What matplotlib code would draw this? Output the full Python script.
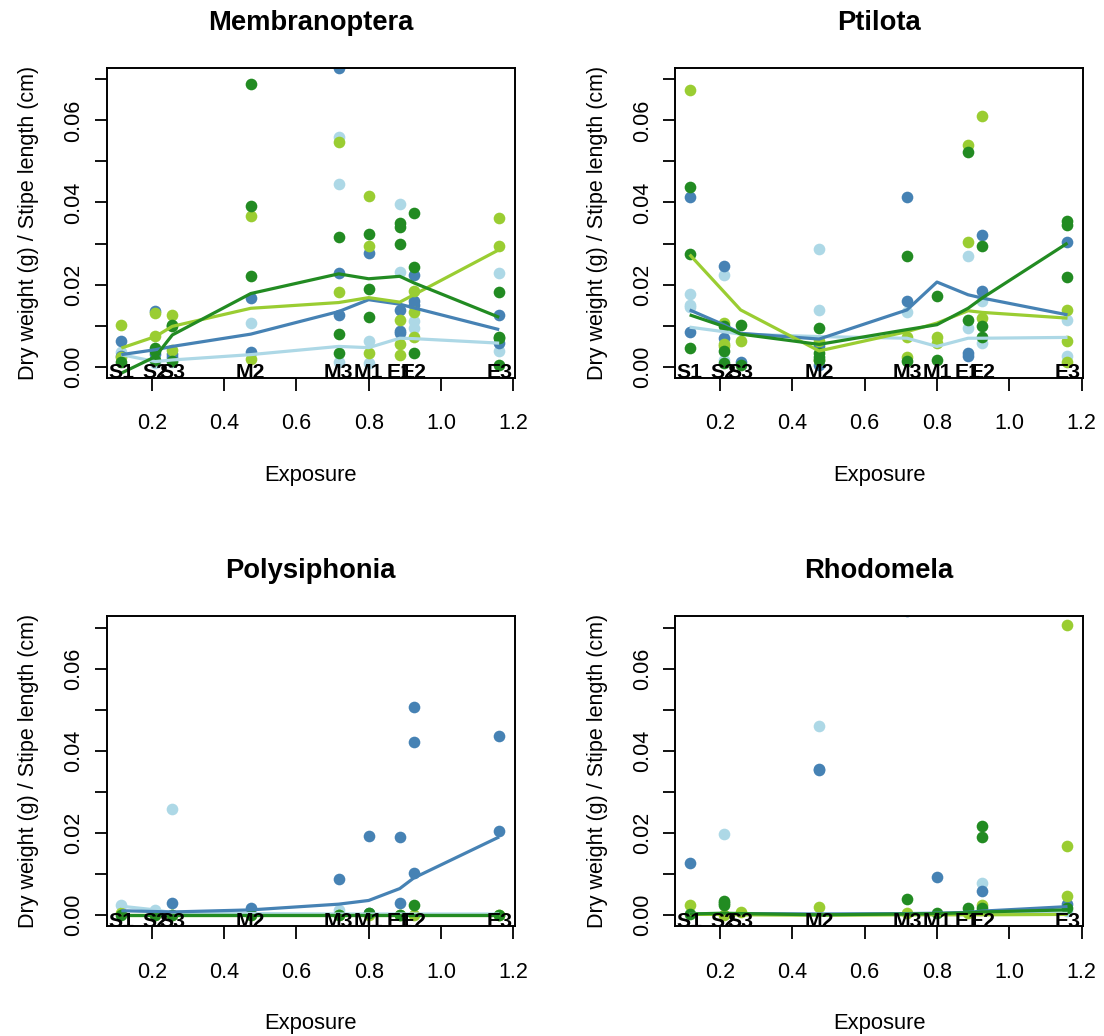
import numpy as np
import matplotlib
matplotlib.use("Agg")
import matplotlib.pyplot as plt

plt.rcParams["font.family"] = ["Liberation Sans", "DejaVu Sans"]

# Sampling sites and their exposure index
SITES = ["S1", "S2", "S3", "M2", "M3", "M1", "E1", "E2", "E3"]
EXPOSURE = [0.116, 0.210, 0.257, 0.474, 0.717, 0.800, 0.886, 0.925, 1.161]
GROUP_COLOURS = ["lightblue", "steelblue", "yellowgreen", "forestgreen"]

# ---- Membranoptera: replicate values per site, one list per group ----
memb_lightblue = [[0.0035], [0.0008], [0.0010], [0.0106], [0.0559, 0.0446, 0.0012],
                  [0.0063, 0.0008], [0.0396, 0.0230], [0.0112, 0.0094], [0.0228, 0.0037]]
memb_steelblue = [[0.0063, 0.0025], [0.0136, 0.0030], [0.0024, 0.0030], [0.0168, 0.0035],
                  [0.0729, 0.0228, 0.0126], [0.0277], [0.0138, 0.0087, 0.0081],
                  [0.0224, 0.0159, 0.0150], [0.0126, 0.0057]]
memb_yellowgreen = [[0.0102, 0.0024], [0.0130, 0.0075], [0.0126, 0.0041], [0.0366, 0.0018],
                    [0.0548, 0.0182], [0.0417, 0.0295, 0.0033], [0.0114, 0.0055, 0.0029],
                    [0.0185, 0.0134, 0.0071], [0.0362, 0.0295]]
memb_forestgreen = [[0.0012], [0.0046, 0.0037, 0.0017], [0.0102, 0.0098, 0.0014],
                    [0.0688, 0.0391, 0.0220], [0.0315, 0.0079, 0.0033], [0.0324, 0.0188, 0.0121],
                    [0.0350, 0.0340, 0.0299], [0.0374, 0.0242, 0.0033], [0.0182, 0.0073, 0.0070, 0.0004]]
memb_fit_lightblue = [0.0029, 0.0012, 0.0016, 0.0029, 0.0049, 0.0046, 0.0069, 0.0068, 0.0057]
memb_fit_steelblue = [0.0029, 0.0041, 0.0049, 0.0079, 0.0134, 0.0163, 0.0152, 0.0143, 0.0090]
memb_fit_yellowgreen = [0.0045, 0.0073, 0.0098, 0.0142, 0.0156, 0.0168, 0.0157, 0.0175, 0.0285]
memb_fit_forestgreen = [-0.0016, 0.0024, 0.0077, 0.0178, 0.0226, 0.0214, 0.0220, 0.0204, 0.0120]

# ---- Ptilota ----
ptil_lightblue = [[0.0178, 0.0151, 0.0145], [0.0224, 0.0016], [], [0.0286, 0.0138], [0.0134],
                  [], [0.0269, 0.0095], [0.0159, 0.0057], [0.0114, 0.0026]]
ptil_steelblue = [[0.0413, 0.0083], [0.0244, 0.0069], [0.0010], [0.0049, 0.0004], [0.0413, 0.0160],
                  [], [0.0034, 0.0025], [0.0321, 0.0183], [0.0303]]
ptil_yellowgreen = [[0.0674], [0.0106, 0.0055, 0.0050], [0.0063], [0.0063, 0.0016], [0.0071, 0.0022],
                    [0.0073, 0.0057], [0.0541, 0.0303], [0.0612, 0.0118], [0.0138, 0.0063, 0.0012]]
ptil_forestgreen = [[0.0438, 0.0274, 0.0046], [0.0099, 0.0038, 0.0009], [0.0102, 0.0004],
                    [0.0094, 0.0033, 0.0024, 0.0016], [0.0269, 0.0014], [0.0171, 0.0016],
                    [0.0523, 0.0113], [0.0295, 0.0100, 0.0071], [0.0354, 0.0346, 0.0218]]
ptil_fit_lightblue = [0.0096, 0.0085, 0.0079, 0.0073, 0.0069, 0.0049, 0.0069, 0.0069, 0.0071]
ptil_fit_steelblue = [0.0138, 0.0102, 0.0081, 0.0067, 0.0138, 0.0206, 0.0175, 0.0167, 0.0126]
ptil_fit_yellowgreen = [0.0273, 0.0183, 0.0138, 0.0038, 0.0085, 0.0106, 0.0136, 0.0132, 0.0118]
ptil_fit_forestgreen = [0.0126, 0.0098, 0.0079, 0.0054, 0.0090, 0.0102, 0.0142, 0.0167, 0.0301]

# ---- Polysiphonia ----
poly_lightblue = [[0.0024], [0.0012], [0.0257], [], [0.0012], [], [], [], []]
poly_steelblue = [[], [], [0.0028], [0.0016], [0.0088], [0.0193, 0.0004], [0.0189, 0.0028],
                  [0.0507, 0.0422, 0.0102], [0.0435, 0.0204]]
poly_yellowgreen = [[0.0004], [0.0], [0.0], [0.0], [0.0], [0.0], [0.0], [0.0], [0.0]]
poly_forestgreen = [[0.0], [0.0], [0.0], [0.0], [0.0], [0.0004], [0.0], [0.0023], [0.0]]
poly_fit_lightblue = [0.0021, 0.0012, 0.0005, 0.0003, 0.0002, 0.0002, 0.0002, 0.0002, 0.0002]
poly_fit_steelblue = [0.0010, 0.0008, 0.0007, 0.0012, 0.0026, 0.0035, 0.0064, 0.0090, 0.0190]
poly_fit_yellowgreen = [0.0, 0.0, 0.0, 0.0, 0.0, 0.0, 0.0, 0.0, 0.0]
poly_fit_forestgreen = [0.0, 0.0, 0.0, 0.0, 0.0, 0.0, 0.0, 0.0, 0.0]

# ---- Rhodomela ----
rhod_lightblue = [[], [0.0198], [], [0.0460], [], [], [], [0.0077], [0.0010]]
rhod_steelblue = [[0.0126], [], [], [0.0355, 0.0353], [0.0742], [0.0092], [], [0.0059], [0.0026]]
rhod_yellowgreen = [[0.0024], [0.0], [0.0006], [0.0018], [0.0005], [], [0.0005], [0.0024],
                    [0.0706, 0.0169, 0.0046]]
rhod_forestgreen = [[0.0002], [0.0034, 0.0029, 0.0023], [], [], [0.0038], [0.0005], [0.0016],
                    [0.0216, 0.0189, 0.0016], [0.0017]]
rhod_fit_lightblue = [0.0001, 0.0001, 0.0001, 0.0001, 0.0001, 0.0001, 0.0002, 0.0003, 0.0004]
rhod_fit_steelblue = [0.0002, 0.0003, 0.0003, 0.0002, 0.0003, 0.0004, 0.0006, 0.0009, 0.0020]
rhod_fit_yellowgreen = [0.0001, 0.0001, 0.0, -0.0001, 0.0, 0.0, 0.0, 0.0, 0.0001]
rhod_fit_forestgreen = [0.0002, 0.0004, 0.0003, 0.0, 0.0002, 0.0003, 0.0005, 0.0007, 0.0012]

PANELS = [
    ("Membranoptera",
     [memb_lightblue, memb_steelblue, memb_yellowgreen, memb_forestgreen],
     [memb_fit_lightblue, memb_fit_steelblue, memb_fit_yellowgreen, memb_fit_forestgreen]),
    ("Ptilota",
     [ptil_lightblue, ptil_steelblue, ptil_yellowgreen, ptil_forestgreen],
     [ptil_fit_lightblue, ptil_fit_steelblue, ptil_fit_yellowgreen, ptil_fit_forestgreen]),
    ("Polysiphonia",
     [poly_lightblue, poly_steelblue, poly_yellowgreen, poly_forestgreen],
     [poly_fit_lightblue, poly_fit_steelblue, poly_fit_yellowgreen, poly_fit_forestgreen]),
    ("Rhodomela",
     [rhod_lightblue, rhod_steelblue, rhod_yellowgreen, rhod_forestgreen],
     [rhod_fit_lightblue, rhod_fit_steelblue, rhod_fit_yellowgreen, rhod_fit_forestgreen]),
]

X_TICKS = [0.2, 0.4, 0.6, 0.8, 1.0, 1.2]
X_TICK_LABELS = ["0.2", "0.4", "0.6", "0.8", "1.0", "1.2"]
Y_TICKS = [0.00, 0.01, 0.02, 0.03, 0.04, 0.05, 0.06, 0.07]
Y_TICK_LABELS = ["0.00", "", "0.02", "", "0.04", "", "0.06", ""]

W, H = 1104, 1036
fig = plt.figure(figsize=(W / 100, H / 100), dpi=100)

# plot regions in pixels: left, top, right, bottom
boxes = [(106.7, 68, 515, 378), (675, 68, 1083.3, 378),
         (106.7, 616.3, 515, 926.3), (675, 616.3, 1083.3, 926.3)]

PX = 72 / 100  # points per pixel

for (l, t, r, b), (name, groups, fits) in zip(boxes, PANELS):
    ax = fig.add_axes([l / W, 1 - b / H, (r - l) / W, (b - t) / H])
    ax.set_xlim(0.0755, 1.2047)
    ax.set_ylim(-0.0028, 0.0728)

    for colour, per_site in zip(GROUP_COLOURS, groups):
        xs, ys = [], []
        for x, vals in zip(EXPOSURE, per_site):
            xs += [x] * len(vals)
            ys += vals
        ax.plot(xs, ys, "o", color=colour, ms=8.4, mec="none", ls="none", zorder=2)

    for colour, fit in zip(GROUP_COLOURS, fits):
        ax.plot(EXPOSURE, fit, "-", color=colour, lw=2.3, zorder=3,
                solid_capstyle="butt")

    for s, x in zip(SITES, EXPOSURE):
        ax.text(x, -0.0029, s, ha="center", va="baseline", fontsize=15.3,
                fontweight="bold", color="black", zorder=4, clip_on=True)

    ax.set_xticks(X_TICKS)
    ax.set_xticklabels(X_TICK_LABELS)
    ax.set_yticks(Y_TICKS)
    ax.set_yticklabels(Y_TICK_LABELS)
    ax.tick_params(axis="both", direction="out", length=9, width=1.3,
                   labelsize=15.5, color="black")
    ax.tick_params(axis="x", pad=16.5)
    ax.tick_params(axis="y", pad=7, labelrotation=90)
    for lbl in ax.get_yticklabels():
        lbl.set_va("center")
    for sp in ax.spines.values():
        sp.set_linewidth(1.4)
        sp.set_color("black")

    ax.annotate(name, xy=(0.5, 1), xycoords="axes fraction",
                xytext=(0, 38 * PX), textcoords="offset points",
                ha="center", va="baseline", fontsize=19.7, fontweight="bold")
    ax.annotate("Exposure", xy=(0.5, 0), xycoords="axes fraction",
                xytext=(0, -103 * PX), textcoords="offset points",
                ha="center", va="baseline", fontsize=15.8)
    ax.annotate("Dry weight (g) / Stipe length (cm)", xy=(0, 0.5),
                xycoords="axes fraction", xytext=(-78 * PX, 0),
                textcoords="offset points", ha="center", va="center",
                rotation=90, fontsize=15.5)

fig.savefig("out.png", dpi=100)
